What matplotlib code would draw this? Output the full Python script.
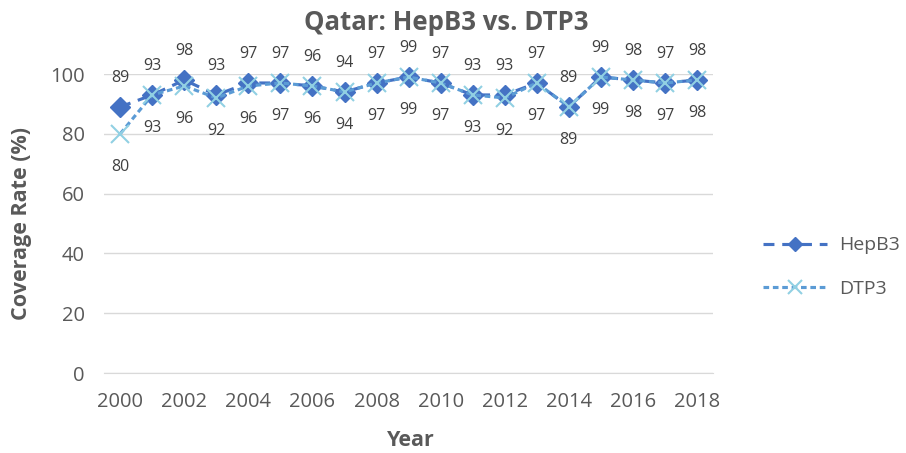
import numpy as np
import matplotlib
matplotlib.use("Agg")
import matplotlib.pyplot as plt

plt.rcParams['font.family'] = ['Open Sans', 'DejaVu Sans']

# Datos
anios = [2000, 2001, 2002, 2003, 2004, 2005, 2006, 2007, 2008, 2009,
         2010, 2011, 2012, 2013, 2014, 2015, 2016, 2017, 2018]
hepb3 = [89, 93, 98, 93, 97, 97, 96, 94, 97, 99, 97, 93, 93, 97, 89, 99, 98, 97, 98]
dtp3 = [80, 93, 96, 92, 96, 97, 96, 94, 97, 99, 97, 93, 92, 97, 89, 99, 98, 97, 98]
etiquetas_x = [str(a) if a % 2 == 0 else '' for a in anios]

gris = '#595959'
x = np.arange(len(anios))

fig = plt.figure(figsize=(9.06, 4.53), dpi=100)
ax = fig.add_axes([0.115, 0.1766, 0.672, 0.66])

ax.plot(x, hepb3, color='#4472C4', lw=2.25, ls=(0, (3.5, 2.5)), marker='D', ms=10,
        mfc='#4472C4', mec='#4472C4', label='HepB3', clip_on=False, zorder=3)
ax.plot(x, dtp3, color='#5B9BD5', lw=2.25, ls=(0, (1.8, 1.2)), marker='x', ms=13,
        mew=1.5, mec='#91D0E3', label='DTP3', clip_on=False, zorder=4)

# Etiquetas de datos: HepB3 arriba, DTP3 abajo
for xi, v in zip(x, hepb3):
    ax.annotate(str(v), (xi, v), xytext=(0, 21), textcoords='offset points',
                ha='center', va='center', fontsize=11.5, color='#404040')
for xi, v in zip(x, dtp3):
    ax.annotate(str(v), (xi, v), xytext=(0, -24), textcoords='offset points',
                ha='center', va='center', fontsize=11.5, color='#404040')

ax.set_xlim(-0.5, len(anios) - 0.5)
ax.set_ylim(0, 100)
ax.set_yticks(range(0, 101, 20))
ax.set_xticks(x)
ax.set_xticklabels(etiquetas_x)
ax.tick_params(axis='both', length=0, labelsize=14.5, colors=gris)
ax.tick_params(axis='x', pad=14)
ax.tick_params(axis='y', pad=14)
ax.grid(axis='y', color='#D9D9D9', lw=1)
ax.set_axisbelow(True)
for s in ['top', 'right', 'left']:
    ax.spines[s].set_visible(False)
ax.spines['bottom'].set_color('#D9D9D9')

fig.text(0.492, 0.951, 'Qatar: HepB3 vs. DTP3', fontsize=18.5, fontweight='bold',
         color=gris, ha='center', va='center')
fig.text(411 / 906, 1 - 440 / 453, 'Year', fontsize=15.5, fontweight='bold',
         color=gris, ha='center', va='center')
fig.text(22 / 906, 1 - 223 / 453, 'Coverage Rate (%)', fontsize=15.5,
         fontweight='bold', color=gris, ha='center', va='center', rotation=90)

leg = fig.legend(loc='center left', bbox_to_anchor=(763 / 906, 1 - 267 / 453),
                 frameon=False, fontsize=14, labelspacing=1.3, handlelength=3.3,
                 handletextpad=0.6, borderpad=0, borderaxespad=0, markerscale=0.75)
for t in leg.get_texts():
    t.set_color(gris)

fig.savefig('out.png', dpi=100)
